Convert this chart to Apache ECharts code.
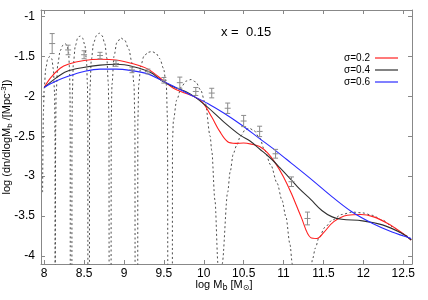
<!DOCTYPE html>
<html><head><meta charset="utf-8">
<script src="https://cdn.jsdelivr.net/npm/echarts@6/dist/echarts.min.js"></script>
<style>html,body{margin:0;padding:0;background:#fff}#c{width:428px;height:300px}</style>
</head><body><div id="c"></div>
<script>
const xTicks = [8, 8.5, 9, 9.5, 10, 10.5, 11, 11.5, 12, 12.5];
const yTicks = [-4, -3.5, -3, -2.5, -2, -1.5, -1];
const seriesNames = ['σ=0.2', 'σ=0.4', 'σ=0.6'];

// observed points with error bars
const obsX = [8.1, 8.3, 8.5, 8.7, 8.9, 9.1, 9.3, 9.5, 9.7, 9.9, 10.1, 10.3, 10.5, 10.7, 10.9, 11.1, 11.3];
const obsY = [-1.34, -1.42, -1.48, -1.49, -1.59, -1.67, -1.69, -1.80, -1.83, -1.94, -1.96, -2.15, -2.31, -2.44, -2.72, -3.07, -3.53];
const obsErr = [0.125, 0.06, 0.05, 0.04, 0.035, 0.035, 0.03, 0.035, 0.07, 0.05, 0.06, 0.065, 0.07, 0.065, 0.055, 0.06, 0.08];

// sigma = 0.2 (red)
const sigma02 = [[8.0,-1.89],[8.08,-1.77],[8.2,-1.65],[8.3,-1.6],[8.5,-1.553],[8.7,-1.537],[8.9,-1.545],[9.1,-1.59],[9.3,-1.66],[9.5,-1.81],[9.62,-1.9],[9.75,-1.955],[9.87,-2.0],[9.98,-2.07],[10.1,-2.26],[10.2,-2.44],[10.3,-2.57],[10.4,-2.59],[10.5,-2.585],[10.6,-2.6],[10.7,-2.63],[10.8,-2.71],[10.9,-2.84],[11.0,-3.01],[11.1,-3.22],[11.22,-3.51],[11.34,-3.77],[11.42,-3.78],[11.5,-3.71],[11.63,-3.57],[11.8,-3.49],[11.97,-3.48],[12.13,-3.51],[12.3,-3.59],[12.47,-3.7],[12.6,-3.8]];
// sigma = 0.4 (black)
const sigma04 = [[8.0,-1.89],[8.15,-1.77],[8.28,-1.69],[8.49,-1.64],[8.7,-1.61],[8.91,-1.6],[9.12,-1.63],[9.33,-1.7],[9.48,-1.81],[9.62,-1.88],[9.83,-1.97],[10.04,-2.13],[10.25,-2.32],[10.46,-2.49],[10.58,-2.56],[10.7,-2.66],[10.83,-2.77],[10.95,-2.89],[11.1,-3.05],[11.2,-3.16],[11.34,-3.29],[11.48,-3.43],[11.61,-3.51],[11.73,-3.54],[11.99,-3.56],[12.24,-3.61],[12.47,-3.71],[12.6,-3.8]];
// sigma = 0.6 (blue)
const sigma06 = [[8.0,-1.89],[8.15,-1.81],[8.3,-1.75],[8.5,-1.69],[8.7,-1.66],[8.9,-1.66],[9.1,-1.68],[9.3,-1.72],[9.45,-1.79],[9.65,-1.89],[9.83,-1.98],[10.05,-2.09],[10.25,-2.21],[10.46,-2.35],[10.7,-2.53],[10.9,-2.68],[11.1,-2.84],[11.36,-3.05],[11.61,-3.26],[11.86,-3.45],[12.11,-3.59],[12.36,-3.7],[12.6,-3.78]];
// no-scatter reference curve (dotted, oscillating)
const dottedCurve = [
 [7.98,-3.2],[7.99,-2.2],[8.0,-1.9],[8.02,-1.65],[8.045,-1.53],[8.07,-1.5],[8.095,-1.53],[8.115,-1.66],[8.13,-1.95],[8.136,-2.5],[8.137,-4.6],
 [8.143,-4.6],[8.144,-2.4],[8.15,-1.95],[8.17,-1.6],[8.2,-1.43],[8.235,-1.36],[8.26,-1.34],[8.285,-1.36],[8.305,-1.45],[8.318,-1.65],[8.324,-2.0],[8.326,-2.5],[8.327,-4.6],
 [8.347,-4.6],[8.348,-2.4],[8.353,-1.95],[8.365,-1.6],[8.39,-1.37],[8.42,-1.27],[8.45,-1.245],[8.48,-1.27],[8.51,-1.36],[8.53,-1.55],[8.542,-1.85],[8.547,-2.3],[8.548,-4.6],
 [8.567,-4.6],[8.568,-2.4],[8.574,-1.9],[8.59,-1.55],[8.62,-1.33],[8.655,-1.24],[8.69,-1.21],[8.725,-1.24],[8.76,-1.34],[8.785,-1.52],[8.803,-1.83],[8.812,-2.3],[8.814,-4.6],
 [8.838,-4.6],[8.84,-2.3],[8.85,-1.85],[8.875,-1.5],[8.91,-1.33],[8.96,-1.27],[9.01,-1.3],[9.06,-1.41],[9.1,-1.58],[9.125,-1.85],[9.137,-2.3],[9.14,-4.6],
 [9.172,-4.6],[9.174,-2.3],[9.185,-1.85],[9.21,-1.62],[9.25,-1.5],[9.3,-1.45],[9.35,-1.44],[9.4,-1.46],[9.45,-1.53],[9.495,-1.65],[9.53,-1.85],[9.546,-2.3],[9.55,-4.6],
 [9.606,-4.6],[9.608,-2.55],[9.62,-2.3],[9.66,-2.05],[9.72,-1.88],[9.78,-1.81],[9.84,-1.79],[9.9,-1.82],[9.96,-1.92],[10.02,-2.09],[10.08,-2.5],[10.1,-2.68],[10.14,-3.3],[10.18,-4.12],[10.19,-4.6],
 [10.22,-4.6],[10.23,-4.1],[10.3,-3.2],[10.33,-2.95],[10.37,-2.72],[10.41,-2.62],[10.46,-2.5],[10.52,-2.42],[10.57,-2.4],[10.63,-2.43],[10.7,-2.52],[10.76,-2.67],[10.84,-2.86],[10.92,-3.09],[10.98,-3.3],[11.03,-3.51],[11.08,-3.85],[11.11,-4.1],[11.13,-4.6],
 [11.33,-4.6],[11.36,-4.05],[11.4,-3.9],[11.44,-3.78],[11.52,-3.64],[11.61,-3.55],[11.73,-3.48],[11.86,-3.45],[11.99,-3.46],[12.11,-3.49],[12.24,-3.55],[12.36,-3.63],[12.49,-3.72],[12.61,-3.8]
];

const X_MIN = 7.96, X_MAX = 12.61, Y_MIN = -4.1, Y_MAX = -0.92;
const FONT = 'Liberation Sans, Arial, sans-serif';
const frame = {lineStyle: {color: '#888', width: 1}};

const chart = echarts.init(document.getElementById('c'), null, {renderer: 'canvas'});
const obsData = obsX.map((x, i) => [x, obsY[i], obsErr[i]]);

function errRender(params, api) {
  const x = api.value(0), y = api.value(1), e = api.value(2);
  const c = api.coord([x, y]), t = api.coord([x, y + e]), b = api.coord([x, y - e]);
  const w = 2.5, st = {stroke: '#8c8c8c', lineWidth: 1};
  return {type: 'group', children: [
    {type: 'line', shape: {x1: c[0], y1: t[1], x2: c[0], y2: b[1]}, style: st},
    {type: 'line', shape: {x1: c[0] - w, y1: t[1], x2: c[0] + w, y2: t[1]}, style: st},
    {type: 'line', shape: {x1: c[0] - w, y1: b[1], x2: c[0] + w, y2: b[1]}, style: st},
    {type: 'line', shape: {x1: c[0] - 3, y1: c[1], x2: c[0] + 3, y2: c[1]}, style: st}
  ]};
}

const option = {
  animation: false,
  backgroundColor: '#fff',
  textStyle: {fontFamily: FONT},
  grid: {left: 41, right: 16, top: 10, bottom: 36},
  legend: {
    data: seriesNames, orient: 'vertical', align: 'right', right: 25, top: 47,
    icon: 'rect', itemWidth: 23, itemHeight: 1.2, itemGap: 0,
    textStyle: {fontSize: 10, color: '#000', fontFamily: FONT, lineHeight: 12, padding: [0, 0, 0, 0]}
  },
  graphic: [
    {type: 'text', left: 221, top: 26, style: {text: 'x =  0.15', fontSize: 13, fill: '#000', fontFamily: FONT}},
    {type: 'text', x: 7, y: 137, rotation: Math.PI / 2,
     style: {text: 'log (dn/dlogM{s|b} /[Mpc{p|-3}])', fontSize: 11, fill: '#000', fontFamily: FONT, align: 'center', verticalAlign: 'middle',
       rich: {s: {fontSize: 8, verticalAlign: 'bottom', padding: [6, 0, 0, 0], fontFamily: FONT}, p: {fontSize: 8, verticalAlign: 'top', padding: [0, 0, 6, 0], fontFamily: FONT}}}},
    {type: 'text', x: 224, y: 285,
     style: {text: 'log M{s|b} [M{s|⊙}]', fontSize: 11, fill: '#000', fontFamily: FONT, align: 'center', verticalAlign: 'middle',
       rich: {s: {fontSize: 8, verticalAlign: 'bottom', padding: [6, 0, 0, 0], fontFamily: 'DejaVu Sans, Liberation Sans, sans-serif'}}}}
  ],
  xAxis: [
    {type: 'value', min: X_MIN, max: X_MAX, position: 'bottom', axisLine: {show: true, ...frame}, splitLine: {show: false},
     axisTick: {inside: true, length: 4, customValues: xTicks, lineStyle: {color: '#888'}},
     axisLabel: {customValues: xTicks, fontSize: 12, color: '#000', margin: 4, fontFamily: FONT}},
    {type: 'value', min: X_MIN, max: X_MAX, position: 'top', axisLine: {show: true, ...frame}, splitLine: {show: false},
     axisTick: {inside: true, length: 4, customValues: xTicks, lineStyle: {color: '#888'}}, axisLabel: {show: false}}
  ],
  yAxis: [
    {type: 'value', min: Y_MIN, max: Y_MAX, position: 'left', axisLine: {show: true, ...frame}, splitLine: {show: false},
     axisTick: {inside: true, length: 4, customValues: yTicks, lineStyle: {color: '#888'}},
     axisLabel: {customValues: yTicks, fontSize: 12, color: '#000', margin: 6, fontFamily: FONT}},
    {type: 'value', min: Y_MIN, max: Y_MAX, position: 'right', axisLine: {show: true, ...frame}, splitLine: {show: false},
     axisTick: {inside: true, length: 4, customValues: yTicks, lineStyle: {color: '#888'}}, axisLabel: {show: false}}
  ],
  series: [
    {name: 'dotted', type: 'line', data: dottedCurve, symbol: 'none', clip: true, smooth: 0.3, smoothMonotone: 'x',
     lineStyle: {color: '#3a3a3a', width: 0.9, type: [2, 2.5]}, z: 1},
    {name: seriesNames[0], type: 'line', data: sigma02, symbol: 'none', smooth: 0.35, clip: true, lineStyle: {color: '#ff2020', width: 1.1}, itemStyle: {color: '#ff2020'}, z: 2},
    {name: seriesNames[1], type: 'line', data: sigma04, symbol: 'none', smooth: 0.35, clip: true, lineStyle: {color: '#303030', width: 1.1}, itemStyle: {color: '#303030'}, z: 3},
    {name: seriesNames[2], type: 'line', data: sigma06, symbol: 'none', smooth: 0.35, clip: true, lineStyle: {color: '#2a2aff', width: 1.1}, itemStyle: {color: '#2a2aff'}, z: 4},
    {name: 'obs', type: 'custom', data: obsData, renderItem: errRender, clip: true, z: 5}
  ]
};
chart.setOption(option);
</script></body></html>
